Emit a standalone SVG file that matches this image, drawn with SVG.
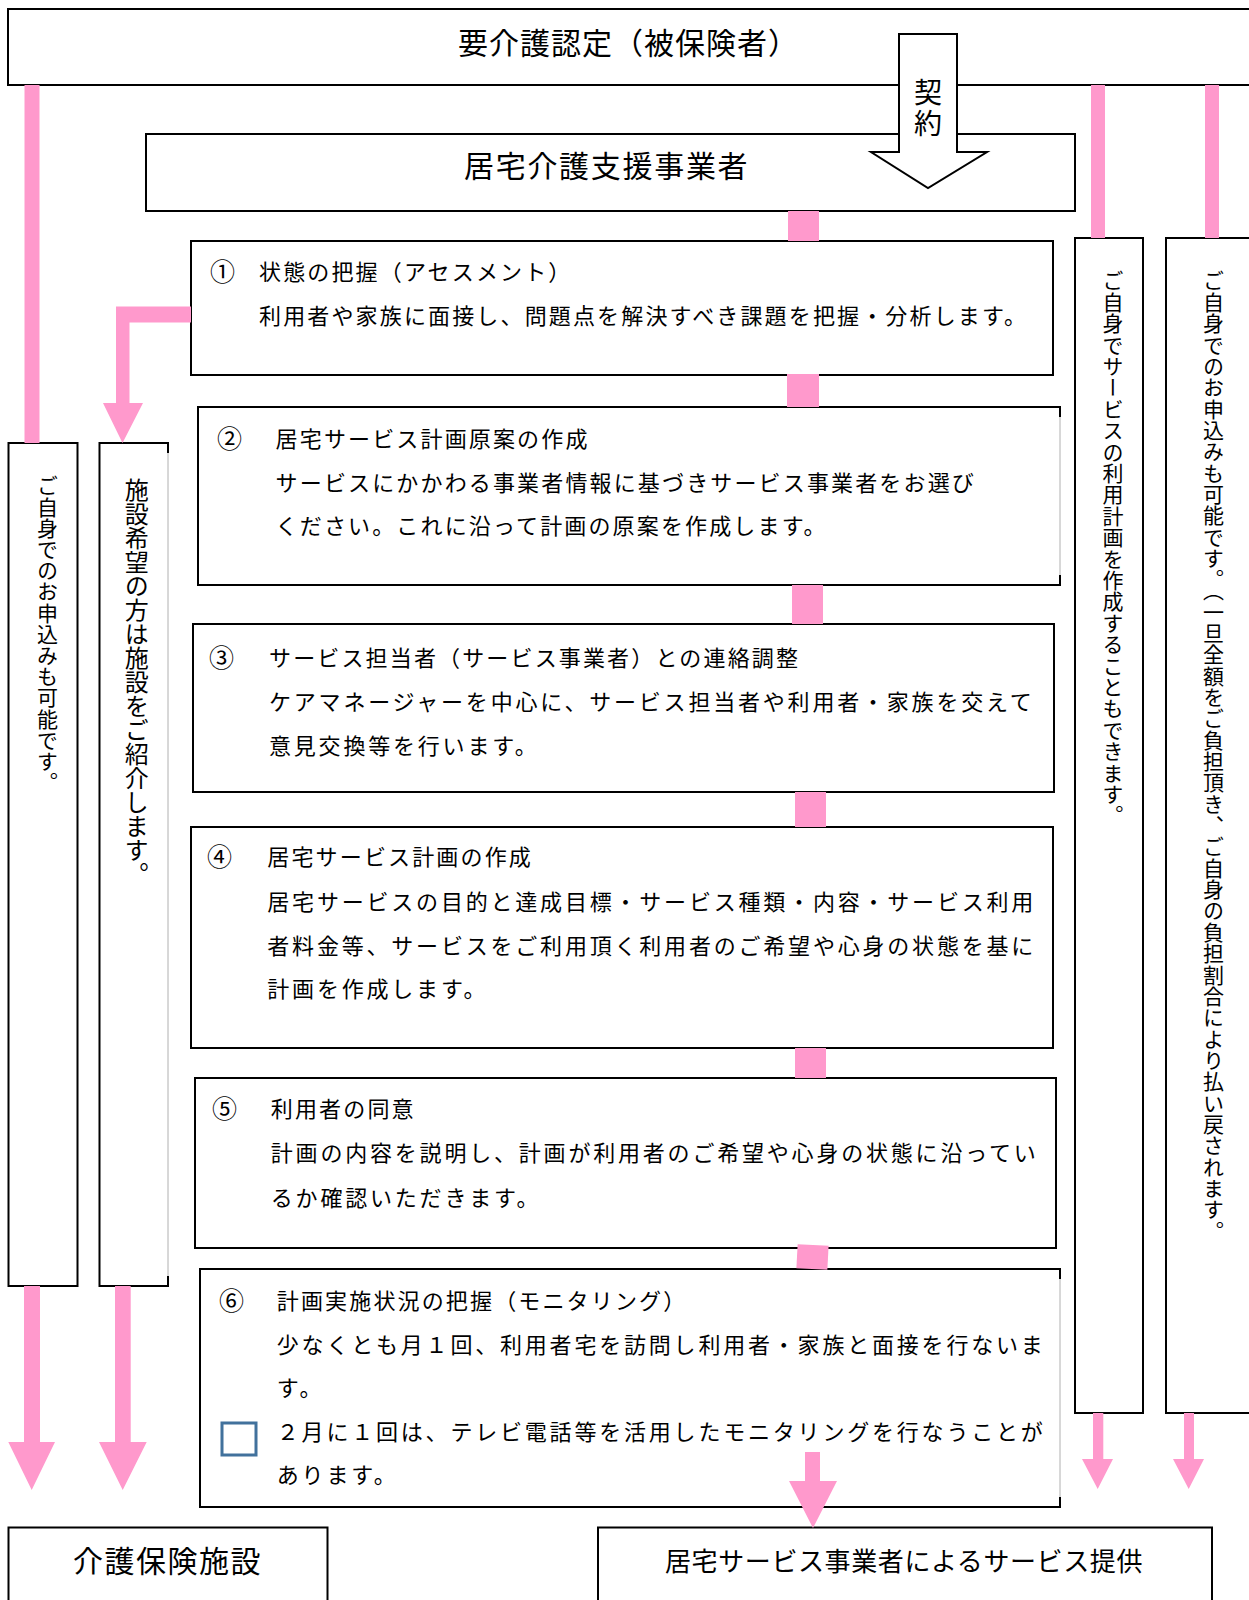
<svg xmlns="http://www.w3.org/2000/svg" width="1249" height="1600" viewBox="0 0 1249 1600">
<style>
.box{fill:#fff;stroke:#000;stroke-width:2}
.edge{fill:none;stroke:#000;stroke-width:2}
.faint{fill:none;stroke:#b0b0b0;stroke-width:1}
.pink{fill:#ff99cc}
text{font-family:"Noto Sans CJK JP","Noto Sans",sans-serif;fill:#000}
.c{dominant-baseline:central}
.n{font-size:25px}
.b{font-size:22px;letter-spacing:2.15px}
.b2{font-size:22px;letter-spacing:2.8px}
.big{font-size:30px;letter-spacing:1.5px}
.v{writing-mode:vertical-rl;text-orientation:mixed}
</style>
<rect width="1249" height="1600" fill="#fff"/>

<g id="node-top">
<rect class="box" x="8" y="9" width="1270" height="76"/>
<text class="c big" x="458" y="41" style="letter-spacing:1px">要介護認定（被保険者）</text>
</g>

<g id="node-support">
<rect class="box" x="146" y="134" width="929" height="77"/>
<text class="c big" x="464" y="164" style="letter-spacing:1.7px">居宅介護支援事業者</text>
</g>

<g id="node-contract">
<polygon class="box" points="899,34 957,34 957,152 987,152 928,188 871,152 899,152"/>
<text class="v" x="928" y="78" font-size="28" letter-spacing="3">契約</text>
</g>

<g id="node-step1">
<rect class="box" x="191" y="241" width="862" height="134"/>
<text class="c n" x="210" y="270">①</text>
<text class="c b" x="259" y="270">状態の把握（アセスメント）</text>
<text class="c b" x="259" y="314">利用者や家族に面接し、問題点を解決すべき課題を把握・分析します。</text>
</g>

<g id="node-step2">
<rect x="198" y="407" width="862" height="178" fill="#fff"/>
<path class="edge" d="M1060,417 V407 H198 V585 H1060 V575"/>
<line class="faint" x1="1060" y1="417" x2="1060" y2="575"/>
<text class="c n" x="217" y="437">②</text>
<text class="c b" x="275.6" y="437">居宅サービス計画原案の作成</text>
<text class="c b" x="275.6" y="481">サービスにかかわる事業者情報に基づきサービス事業者をお選び</text>
<text class="c b" x="275.6" y="524">ください。これに沿って計画の原案を作成します。</text>
</g>

<g id="node-step3">
<rect class="box" x="193" y="624" width="861" height="168"/>
<text class="c n" x="209" y="656">③</text>
<text class="c b" x="269" y="656">サービス担当者（サービス事業者）との連絡調整</text>
<text class="c b2" x="269" y="700">ケアマネージャーを中心に、サービス担当者や利用者・家族を交えて</text>
<text class="c b2" x="269" y="744">意見交換等を行います。</text>
</g>

<g id="node-step4">
<rect class="box" x="191" y="827" width="862" height="221"/>
<text class="c n" x="207" y="855">④</text>
<text class="c b" x="267.3" y="855">居宅サービス計画の作成</text>
<text class="c b2" x="267.3" y="900">居宅サービスの目的と達成目標・サービス種類・内容・サービス利用</text>
<text class="c b2" x="267.3" y="944">者料金等、サービスをご利用頂く利用者のご希望や心身の状態を基に</text>
<text class="c b2" x="267.3" y="987">計画を作成します。</text>
</g>

<g id="node-step5">
<rect class="box" x="195" y="1078" width="861" height="170"/>
<text class="c n" x="212" y="1107">⑤</text>
<text class="c b" x="270.8" y="1107">利用者の同意</text>
<text class="c b2" x="270.8" y="1151">計画の内容を説明し、計画が利用者のご希望や心身の状態に沿ってい</text>
<text class="c b2" x="270.8" y="1196">るか確認いただきます。</text>
</g>

<g id="node-step6">
<rect x="200" y="1269" width="860" height="238" fill="#fff"/>
<path class="edge" d="M1060,1279 V1269 H200 V1507 H1060 V1497"/>
<line class="faint" x1="1060" y1="1279" x2="1060" y2="1497"/>
<text class="c n" x="219" y="1299">⑥</text>
<text class="c b" x="276.8" y="1299">計画実施状況の把握（モニタリング）</text>
<text class="c b2" x="276.8" y="1343">少なくとも月１回、利用者宅を訪問し利用者・家族と面接を行ないま</text>
<text class="c b2" x="276.8" y="1386">す。</text>
<rect x="222" y="1423" width="34" height="32" fill="none" stroke="#41719c" stroke-width="3"/>
<text class="c b2" x="276.8" y="1430">２月に１回は、テレビ電話等を活用したモニタリングを行なうことが</text>
<text class="c b2" x="276.8" y="1473">あります。</text>
</g>

<g id="node-self-apply-left">
<rect class="box" x="8.5" y="443" width="69" height="843"/>
<text class="v" x="47.4" y="475" font-size="21" letter-spacing="0.2">ご自身でのお申込みも可能です。</text>
</g>

<g id="node-facility-intro">
<rect x="99.5" y="443" width="68.5" height="843" fill="#fff"/>
<path class="edge" d="M168,453 V443 H99.5 V1286 H168 V1276"/>
<line class="faint" x1="168" y1="453" x2="168" y2="1276"/>
<text class="v" x="136.7" y="478" font-size="24">施設希望の方は施設をご紹介します。</text>
</g>

<g id="node-self-plan">
<rect class="box" x="1075" y="238" width="68" height="1175"/>
<text class="v" x="1113" y="270" font-size="21" letter-spacing="0.4">ご自身でサービスの利用計画を作成することもできます。</text>
</g>

<g id="node-self-apply-right">
<rect class="box" x="1166" y="238" width="110" height="1175"/>
<text class="v" x="1213.5" y="270" font-size="21" letter-spacing="0.35">ご自身でのお申込みも可能です。（一旦全額をご負担頂き、ご自身の負担割合により払い戻されます。</text>
</g>

<g id="node-facility">
<rect class="box" x="8.5" y="1527.5" width="319" height="100"/>
<text class="c big" x="73" y="1559">介護保険施設</text>
</g>

<g id="node-service">
<rect class="box" x="598" y="1527.5" width="614" height="100"/>
<text class="c" x="665" y="1559" font-size="26" letter-spacing="0.6">居宅サービス事業者によるサービス提供</text>
</g>

<g id="connectors" class="pink">
<rect x="788" y="211" width="31" height="30"/>
<rect x="787" y="374" width="32" height="33"/>
<rect x="792" y="585" width="31" height="39"/>
<rect x="795" y="792" width="31" height="35"/>
<rect x="795" y="1048" width="31" height="30"/>
<rect x="797" y="1245" width="31" height="24" transform="rotate(3 812.5 1257)"/>
<rect x="24.5" y="85" width="15" height="358"/>
<rect x="1091" y="85" width="14" height="153"/>
<rect x="1205" y="85" width="14" height="153"/>
<polygon points="191,306.5 116,306.5 116,403 103,403 122.5,443 143,403 129.5,403 129.5,322.5 191,322.5"/>
<polygon points="24,1286 40,1286 40,1442 55,1442 31.7,1490 8.3,1442 24,1442"/>
<polygon points="115,1286 130.7,1286 130.7,1442 146.7,1442 122.7,1490 99,1442 115,1442"/>
<polygon points="1093,1413 1103.3,1413 1103.3,1459 1113,1459 1097.7,1489 1082,1459 1093,1459"/>
<polygon points="1184,1413 1194,1413 1194,1459 1204,1459 1188.7,1489 1173,1459 1184,1459"/>
<polygon points="805,1452 820,1452 820,1481 837,1481 813,1528 789,1481 805,1481"/>
</g>
</svg>
